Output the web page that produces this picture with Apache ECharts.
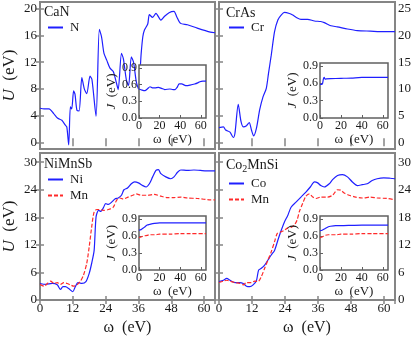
<!DOCTYPE html>
<html><head><meta charset="utf-8">
<script src="https://cdn.jsdelivr.net/npm/echarts@6/dist/echarts.min.js"></script>
<style>html,body{margin:0;padding:0;background:#fff}#c{width:415px;height:339px}#d{position:absolute;left:0;top:0;font:9px monospace;white-space:pre-wrap;width:415px;background:rgba(255,255,200,0.9)}#d:empty{display:none}</style>
</head><body><div id="c"></div><div id="d"></div>
<script>
window.onerror = function(m){ document.getElementById('d').textContent += 'ERR ' + m + '\n'; };
// ---------- DATA ----------
const panelNames = ['CaN', 'CrAs', 'NiMnSb', 'Co2MnSi'];
const mainXTicks = [0, 12, 24, 36, 48, 60];
const ticksCaN = [0, 4, 8, 12, 16, 20];
const ticksCrAs = [0, 5, 10, 15, 20, 25];
const ticksBottom = [0, 6, 12, 18, 24, 30];

// CaN, N
const wCaN = [0, 1.5, 3.3, 5, 6.5, 8, 9.2, 9.8, 10.5, 11.1, 11.6, 12.3, 12.8, 13.5, 14.3, 15.3, 16.2, 17.1, 18.3, 19, 20.5, 21.7, 22.5, 23.4, 24.4, 25.6, 26.8, 28, 28.6, 29.8, 30.5, 31.6, 32.4, 33.4, 34.2, 35.2, 36, 37, 37.6, 38.2, 39.4, 40, 41.2, 42.4, 44.2, 45.4, 47.2, 49, 50, 51.4, 53.9, 57.5, 62.3, 64];
const uCaN_N = [5.1, 5.0, 5.0, 4.3, 3.6, 3.3, 2.6, 2.3, -0.4, 5.3, 5.0, 7.7, 7.2, 4.8, 4.7, 9.7, 8.0, 7.3, 9.9, 9.4, 3.9, 16.9, 15.8, 13.3, 12.3, 11.1, 10.6, 8.8, 7.9, 13.3, 12.5, 9.3, 8.5, 12.8, 12.0, 9.1, 8.0, 13.3, 15.8, 16.8, 17.7, 19.1, 18.7, 19.3, 18.3, 18.8, 19.4, 19.6, 18.8, 17.8, 17.6, 17.1, 16.5, 16.4];
// CrAs, Cr
const wCrAs = [0, 1.6, 2.4, 4, 5.2, 5.8, 7, 8, 8.8, 10, 11, 11.8, 12.6, 13.6, 14.8, 16, 17.2, 18, 19, 20.2, 21.4, 22.6, 23.8, 25.6, 26.8, 28, 29.8, 32.2, 34.7, 37, 38.3, 40.7, 43, 46.7, 50.3, 55, 60, 64];
const uCrAs_Cr = [2.75, 2.9, 2.3, 1.9, 0.9, 1.7, 7.1, 3.9, 2.9, 3.1, 3.7, 2.3, 1.2, 2.6, 6.1, 8.5, 10.1, 12.9, 16.3, 20.7, 22.9, 23.8, 24.3, 24.1, 23.8, 23.4, 23.0, 23.0, 22.7, 22.6, 22.4, 21.8, 21.6, 21.2, 20.9, 20.8, 20.7, 20.7];
// NiMnSb
const wNi = [0, 2.1, 4.5, 6.3, 7.5, 8.4, 9.3, 10.5, 12, 12.9, 13.9, 15.3, 16.8, 18, 18.9, 19.8, 20.5, 21.4, 22.3, 23.2, 24, 25, 26.2, 27.4, 28.6, 29.8, 30.7, 32, 33.4, 34.6, 36, 37.6, 38.8, 40, 41.2, 42.4, 43.3, 44.2, 46, 47.8, 49, 50.3, 51.5, 53.9, 56.3, 58.7, 62.3, 64];
const uNiMnSb_Ni = [3.6, 3.4, 3.6, 3.3, 2.3, 2.9, 2.9, 2.5, 1.8, 2.9, 3.8, 3.6, 4.0, 5.8, 8.0, 10.8, 18.1, 19.5, 19.3, 20.1, 21.0, 20.8, 21.3, 22.0, 22.2, 22.8, 24.0, 24.4, 25.3, 25.7, 25.5, 24.9, 24.6, 25.3, 26.8, 28.2, 28.4, 27.5, 26.8, 26.4, 26.8, 27.8, 28.3, 28.2, 28.3, 28.2, 28.1, 28.1];
const wMn1 = [0, 1.5, 2.7, 3.9, 5.1, 6.3, 7.5, 8.7, 9.9, 11.1, 12.3, 13.5, 14.7, 15.9, 17.1, 18, 18.9, 19.8, 20.8, 22, 23.2, 25, 26.8, 28, 29.2, 30.4, 32.2, 34, 35.2, 37, 39.4, 41.8, 44.2, 46.6, 49, 51.5, 53.9, 57.5, 62.3, 64];
const uNiMnSb_Mn = [3.4, 3.0, 3.6, 4.1, 3.6, 3.8, 3.4, 3.8, 3.6, 3.3, 3.0, 3.3, 4.0, 5.4, 8.0, 11.6, 15.9, 19.2, 19.7, 19.7, 19.5, 19.7, 20.2, 21.7, 22.2, 22.0, 22.4, 22.8, 23.1, 22.8, 22.8, 23.0, 22.6, 22.3, 22.3, 22.4, 22.2, 22.1, 21.8, 21.8];
// Co2MnSi
const wCo = [0, 1.6, 2.8, 4, 5.8, 7.6, 8.8, 10, 11.2, 12.4, 13.6, 14.4, 15.4, 16.6, 17.8, 19, 20.2, 21.4, 22.4, 23.8, 25, 26.2, 28, 29.8, 31.6, 33.2, 34.7, 35.9, 37, 38.3, 40.1, 41.3, 43.1, 44.9, 46.7, 48.5, 50.3, 52.1, 53.9, 55.7, 57.5, 59.9, 62.3, 64];
const uCo2MnSi_Co = [4.0, 4.3, 4.7, 4.3, 3.8, 3.8, 3.6, 3.0, 2.9, 3.3, 4.2, 6.5, 6.9, 7.6, 8.7, 9.8, 10.8, 13.0, 14.8, 17.0, 18.4, 20.2, 21.3, 22.4, 23.5, 24.6, 25.7, 25.5, 24.9, 24.6, 25.3, 26.2, 27.1, 27.3, 26.8, 25.7, 24.9, 25.1, 25.3, 26.0, 26.4, 26.6, 26.5, 26.4];
const wMn2 = [0, 1.6, 2.8, 4, 5.8, 7.6, 8.8, 10, 11.8, 13, 14.2, 15.4, 16.6, 17.8, 19, 20.2, 21.2, 22.4, 23.8, 25, 26.2, 27.4, 28.4, 29.2, 30.4, 31.6, 32.9, 34.1, 35.3, 37, 39.5, 41.3, 43.1, 44.3, 45.5, 47.3, 49.7, 52.1, 55.1, 57.5, 61.1, 64];
const uCo2MnSi_Mn = [3.8, 4.1, 4.3, 4.1, 3.8, 3.6, 3.3, 3.8, 3.8, 4.1, 4.0, 5.1, 6.9, 8.7, 10.5, 12.7, 14.5, 14.8, 15.2, 15.7, 15.8, 16.3, 17.4, 19.2, 21.0, 22.6, 23.1, 22.4, 22.1, 22.4, 22.4, 22.8, 24.0, 23.9, 23.3, 22.8, 22.4, 22.2, 22.4, 22.2, 22.1, 21.8];

// Insets: J(omega)
const wJCaN = [0, 3, 5.8, 8, 10.7, 13, 15.5, 18.8, 22, 25, 30, 33, 35, 37, 39, 41.5, 44, 46, 49.5, 54, 57, 59, 62, 65];
const jCaN_N = [0.52, 0.50, 0.49, 0.52, 0.56, 0.54, 0.54, 0.55, 0.53, 0.51, 0.52, 0.51, 0.51, 0.55, 0.61, 0.61, 0.59, 0.58, 0.59, 0.61, 0.63, 0.65, 0.66, 0.66];
const wJCrAs = [0, 1.5, 2.5, 3.2, 4, 5, 6, 10, 20, 30, 40, 50, 65];
const jCrAs_Cr = [0.58, 0.58, 0.60, 0.67, 0.70, 0.67, 0.675, 0.68, 0.685, 0.69, 0.70, 0.70, 0.70];
const wJ = [0, 2, 5, 8, 10, 15, 20, 30, 40, 50, 65];
const jNiMnSb_Ni = [0.70, 0.71, 0.75, 0.79, 0.80, 0.82, 0.83, 0.83, 0.83, 0.83, 0.83];
const jNiMnSb_Mn = [0.57, 0.58, 0.60, 0.61, 0.62, 0.62, 0.63, 0.63, 0.64, 0.64, 0.64];
const jCo2MnSi_Co = [0.69, 0.70, 0.73, 0.76, 0.77, 0.78, 0.78, 0.785, 0.79, 0.79, 0.79];
const jCo2MnSi_Mn = [0.57, 0.58, 0.61, 0.62, 0.62, 0.62, 0.63, 0.63, 0.64, 0.64, 0.64];

// ---------- CHART ----------
const SERIF = 'Liberation Serif';
const TXT = '#1a1a1a';
const FRAME = '#858585';
const BLUE = '#1f1fff';
const RED = '#ff2a2a';
const pair = (xs, ys) => xs.map((x, i) => [x, ys[i]]);

const mainGrids = [
  {left: 37, top: 2, width: 178, height: 147},
  {left: 219, top: 2, width: 176, height: 147},
  {left: 37, top: 153, width: 178, height: 147},
  {left: 219, top: 153, width: 176, height: 147}
];
const insetGrids = [
  {left: 139, top: 65, width: 67, height: 53},
  {left: 320, top: 63, width: 68, height: 55},
  {left: 139, top: 216, width: 67, height: 54},
  {left: 320, top: 216, width: 68, height: 54}
];
const gridOpt = [];
mainGrids.forEach(g => gridOpt.push(Object.assign({show: true, borderColor: FRAME, borderWidth: 2, backgroundColor: 'transparent', z: 1}, g)));
insetGrids.forEach(g => gridOpt.push(Object.assign({show: true, borderColor: '#606060', borderWidth: 1.5, backgroundColor: '#fff', z: 20}, g)));

const xAxisOpt = [], yAxisOpt = [];
const yRanges = [[-1, 21, ticksCaN], [-1.25, 26.25, ticksCrAs], [0, 32, ticksBottom], [0, 32, ticksBottom]];
const xName = {name: 'ω  (eV)', nameLocation: 'middle', nameGap: 20, nameTextStyle: {fontFamily: SERIF, fontSize: 16, color: TXT}};
for (let i = 0; i < 4; i++) {
  const bottom = i >= 2;
  const tick = {inside: true, length: 4, lineStyle: {color: FRAME, width: 1.5}};
  xAxisOpt.push(Object.assign({type: 'value', gridIndex: i, position: 'bottom', min: 0, max: 64, interval: 12,
    axisLine: {show: false}, axisTick: tick, splitLine: {show: false},
    axisLabel: {show: bottom, margin: 2, fontFamily: SERIF, fontSize: 13, color: TXT, customValues: mainXTicks}, z: 2}, bottom ? xName : {}));
  xAxisOpt.push({type: 'value', gridIndex: i, position: 'top', min: 0, max: 64, interval: 12,
    axisLine: {show: false}, axisTick: tick, splitLine: {show: false}, axisLabel: {show: false}, z: 2});
  const r = yRanges[i];
  const leftSide = (i % 2 === 0);
  const lab = {margin: 3, fontFamily: SERIF, fontSize: 13, color: TXT, customValues: r[2]};
  const tk = Object.assign({}, tick, {customValues: r[2]});
  const yName = leftSide ? {name: '{i|U}  (eV)', nameLocation: 'middle', nameGap: 22, nameRotate: 90,
    nameTextStyle: {fontFamily: SERIF, fontSize: 17, color: TXT, rich: {i: {fontFamily: SERIF, fontSize: 17, fontStyle: 'italic', color: TXT}}}} : {};
  yAxisOpt.push(Object.assign({type: 'value', gridIndex: i, position: 'left', min: r[0], max: r[1],
    axisLine: {show: false}, axisTick: tk, splitLine: {show: false},
    axisLabel: Object.assign({}, lab, {show: leftSide}), z: 2}, yName));
  yAxisOpt.push({type: 'value', gridIndex: i, position: 'right', min: r[0], max: r[1],
    axisLine: {show: false}, axisTick: tk, splitLine: {show: false},
    axisLabel: Object.assign({}, lab, {show: !leftSide}), z: 2});
}
for (let i = 0; i < 4; i++) {
  const gi = 4 + i;
  xAxisOpt.push({type: 'value', gridIndex: gi, min: 0, max: 65, interval: 20,
    axisLine: {show: false}, axisTick: {inside: true, length: 3, lineStyle: {color: '#606060'}}, splitLine: {show: false},
    axisLabel: {margin: 2, fontFamily: SERIF, fontSize: 12, color: TXT},
    name: 'ω  (eV)', nameLocation: 'middle', nameGap: 15, nameTextStyle: {fontFamily: SERIF, fontSize: 13, color: TXT}, z: 21});
  yAxisOpt.push({type: 'value', gridIndex: gi, min: 0, max: 0.95, interval: 0.3,
    axisLine: {show: false}, axisTick: {inside: true, length: 3, lineStyle: {color: '#606060'}}, splitLine: {show: false},
    axisLabel: {margin: 2, fontFamily: SERIF, fontSize: 12, color: TXT, formatter: v => v.toFixed(1)},
    name: '{i|J}  (eV)', nameLocation: 'middle', nameGap: 21, nameRotate: 90,
    nameTextStyle: {fontFamily: SERIF, fontSize: 13, color: TXT, rich: {i: {fontFamily: SERIF, fontSize: 13, fontStyle: 'italic', color: TXT}}}, z: 21});
}

function mkLine(name, xi, yi, data, color, dashed, z) {
  return {type: 'line', name, xAxisIndex: xi, yAxisIndex: yi, data, symbol: 'none', showSymbol: false,
    smooth: 0.25, animation: false, z,
    lineStyle: {color, width: 1.2, type: dashed ? [4, 2] : 'solid'}, itemStyle: {color}};
}
const seriesOpt = [
  mkLine('N', 0, 0, pair(wCaN, uCaN_N), BLUE, false, 3),
  mkLine('Cr', 2, 2, pair(wCrAs, uCrAs_Cr), BLUE, false, 3),
  mkLine('Ni', 4, 4, pair(wNi, uNiMnSb_Ni), BLUE, false, 3),
  mkLine('Mn', 4, 4, pair(wMn1, uNiMnSb_Mn), RED, true, 3),
  mkLine('Co', 6, 6, pair(wCo, uCo2MnSi_Co), BLUE, false, 3),
  mkLine('Mn', 6, 6, pair(wMn2, uCo2MnSi_Mn), RED, true, 3),
  mkLine('N', 8, 8, pair(wJCaN, jCaN_N), BLUE, false, 22),
  mkLine('Cr', 9, 9, pair(wJCrAs, jCrAs_Cr), BLUE, false, 22),
  mkLine('Ni', 10, 10, pair(wJ, jNiMnSb_Ni), BLUE, false, 22),
  mkLine('Mn', 10, 10, pair(wJ, jNiMnSb_Mn), RED, true, 22),
  mkLine('Co', 11, 11, pair(wJ, jCo2MnSi_Co), BLUE, false, 22),
  mkLine('Mn', 11, 11, pair(wJ, jCo2MnSi_Mn), RED, true, 22)
];

const titleStyle = {fontFamily: SERIF, fontSize: 14, fontWeight: 'normal', color: TXT};
const titleOpt = [
  {text: panelNames[0], left: 44, top: 5, padding: 0, textStyle: titleStyle},
  {text: panelNames[1], left: 226, top: 6, padding: 0, textStyle: titleStyle},
  {text: panelNames[2], left: 44, top: 157, padding: 0, textStyle: titleStyle},
  {text: '{a|Co}{s|2}{a|MnSi}', left: 226, top: 157, padding: 0,
    textStyle: Object.assign({}, titleStyle, {rich: {a: {fontFamily: SERIF, fontSize: 14, color: TXT}, s: {fontFamily: SERIF, fontSize: 10, color: TXT, padding: [7, 0, 0, 0]}}})}
];
const legStyle = {orient: 'vertical', padding: 0, itemWidth: 15, itemHeight: 10, itemGap: 3, selectedMode: false,
  itemStyle: {opacity: 0},
  textStyle: {fontFamily: SERIF, fontSize: 13, color: TXT, padding: [0, 0, 0, 2]}};
const legendOpt = [
  Object.assign({left: 47, top: 21, data: ['N']}, legStyle),
  Object.assign({left: 228, top: 21, data: ['Cr']}, legStyle),
  Object.assign({left: 47, top: 173, data: ['Ni', 'Mn']}, legStyle),
  Object.assign({left: 228, top: 177, data: ['Co', 'Mn']}, legStyle)
];

const chart = echarts.init(document.getElementById('c'), null, {renderer: 'canvas'});
chart.setOption({animation: false, backgroundColor: '#fff', textStyle: {fontFamily: SERIF},
  title: titleOpt, legend: legendOpt, grid: gridOpt, xAxis: xAxisOpt, yAxis: yAxisOpt, series: seriesOpt});

// diagnostic: only shown if a font problem is detected
(function () {
  const seen = {}; let bad = '';
  chart.getZr().storage.getDisplayList().forEach(el => {
    const f = el.style && el.style.font;
    if (f && !seen[f]) { seen[f] = 1; if (f.indexOf('Liberation Serif') < 0) bad += el.type + ': ' + f + '\n'; }
  });
  const cv = document.createElement('canvas').getContext('2d');
  cv.font = '13px Liberation Serif'; const a = cv.measureText('NiMnSb').width;
  cv.font = '13px sans-serif'; const b = cv.measureText('NiMnSb').width;
  if (bad || Math.abs(a - b) < 0.5) document.getElementById('d').textContent += 'fonts: ' + Object.keys(seen).join(' | ') + '\nbad: ' + bad + ' w ' + a + ' ' + b;
})();
</script></body></html>
